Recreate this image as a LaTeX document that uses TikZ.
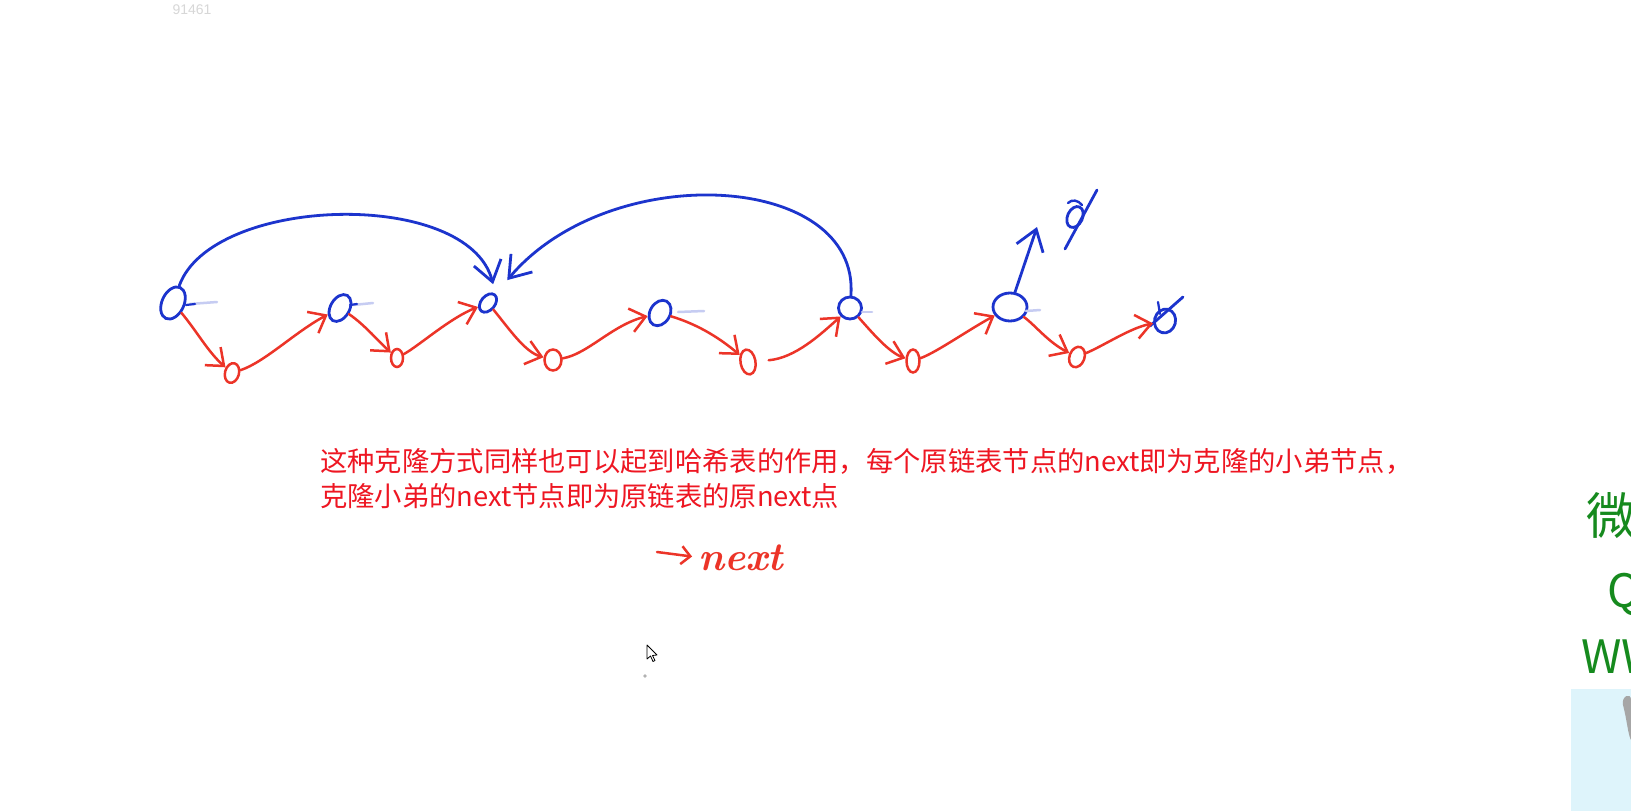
\documentclass[tikz,border=0pt]{standalone}
\usepackage{fontspec}
\newfontfamily\cjk{Noto Sans CJK SC}
\newfontfamily\lsans{Liberation Sans}
\usetikzlibrary{arrows.meta,shapes.geometric}
\definecolor{penblue}{RGB}{28,52,205}
\definecolor{penred}{RGB}{236,52,40}
\definecolor{textred}{RGB}{238,22,34}
\definecolor{wgreen}{RGB}{22,138,30}
\definecolor{wmgray}{RGB}{215,215,215}
\definecolor{boxblue}{RGB}{222,244,251}
\tikzset{
  bnode/.style={draw=penblue, line width=2.8pt, ellipse, inner sep=0pt},
  rnode/.style={draw=penred, line width=2.5pt, ellipse, inner sep=0pt},
  bline/.style={draw=penblue, line width=2.8pt, line cap=round, line join=round},
  rline/.style={draw=penred, line width=2.5pt, line cap=round, line join=round},
  barr/.style={bline, -{Straight Barb[length=20pt,width=28pt]}},
  rarr/.style={rline, -{Straight Barb[length=15pt,width=24pt]}},
  faint/.style={draw=penblue!25, line width=2.5pt, line cap=round},
  redtext/.style={anchor=base west, text=textred, inner sep=0pt, font=\cjk\fontsize{27.3}{35}\selectfont},
  greentext/.style={anchor=base west, text=wgreen, inner sep=0pt}
}
\begin{document}
\begin{tikzpicture}[x=1pt,y=-1pt]
\useasboundingbox (0,0) rectangle (1631,811);
\clip (0,0) rectangle (1631,811);
\fill[white] (0,0) rectangle (1631,811);

% watermark
\node[text=wmgray, font=\lsans\fontsize{14}{14}\selectfont] (wm) at (192,10) {91461};

% blue (original) nodes
\node[bnode, minimum width=22pt, minimum height=34pt, rotate=-25] (b1) at (173,303) {};
\node[bnode, minimum width=19pt, minimum height=29pt, rotate=-30] (b2) at (340,308) {};
\node[bnode, minimum width=14pt, minimum height=21pt, rotate=-40] (b3) at (488,303) {};
\node[bnode, minimum width=20pt, minimum height=27pt, rotate=-30] (b4) at (660,313) {};
\node[bnode, minimum width=23pt, minimum height=22pt] (b5) at (850,308) {};
\node[bnode, minimum width=34pt, minimum height=28pt] (b6) at (1010,307) {};
\node[bnode, minimum width=21pt, minimum height=24pt, rotate=-15] (b7) at (1165,321) {};
\node[bnode, minimum width=15pt, minimum height=22pt, rotate=-25] (ynull) at (1075,217) {};

% red (clone) nodes
\node[rnode, minimum width=14pt, minimum height=20pt, rotate=-15] (r1) at (232,373) {};
\node[rnode, minimum width=12pt, minimum height=18pt] (r2) at (397,358) {};
\node[rnode, minimum width=17pt, minimum height=21pt] (r3) at (553,360) {};
\node[rnode, minimum width=15pt, minimum height=25pt, rotate=10] (r4) at (748,362) {};
\node[rnode, minimum width=13pt, minimum height=23pt] (r5) at (913,361) {};
\node[rnode, minimum width=15pt, minimum height=21pt, rotate=-20] (r6) at (1077,357) {};

% faint tails of the blue nodes
\draw[faint] (190,304) -- (217,302);
\draw[faint] (353,305) -- (373,303);
\draw[faint] (678,312) -- (704,311);
\draw[faint] (862,312) -- (872,312);
\draw[faint] (1026,311) -- (1040,310);
\draw[bline, line width=2.2pt] (186,305) -- (195,304);
\draw[bline, line width=2.2pt] (350,305) -- (357,304);

% null marks
\draw[bline] (1097,190) -- (1065,249);
\draw[bline, line width=2.4pt] (1068,203) .. controls (1072,199) and (1078,200) .. (1082,205);
\draw[bline] (1183,297) -- (1150,326);
\draw[bline, line width=2.2pt] (1158,302) -- (1160,314);

% red next pointers
\draw[rarr] (b1) .. controls (196,330) and (208,352) .. (r1);
\draw[rarr] (r1) .. controls (265,362) and (295,332) .. (b2);
\draw[rarr] (b2) .. controls (365,325) and (380,343) .. (r2);
\draw[rarr] (r2) .. controls (420,345) and (450,318) .. (b3);
\draw[rarr] (b3) .. controls (510,330) and (525,352) .. (r3);
\draw[rarr] (r3) .. controls (588,354) and (612,325) .. (b4);
\draw[rarr] (b4) .. controls (700,325) and (722,340) .. (r4);
\draw[rarr, shorten <=12pt] (r4) .. controls (795,358) and (820,335) .. (b5);
\draw[rarr] (b5) .. controls (870,330) and (888,352) .. (r5);
\draw[rarr] (r5) .. controls (937,352) and (965,332) .. (b6);
\draw[rarr] (b6) .. controls (1035,325) and (1048,342) .. (r6);
\draw[rarr] (r6) .. controls (1105,345) and (1130,328) .. (b7);

% blue random pointers
\draw[barr, shorten >=10pt] (b1) .. controls (212,195) and (468,188) .. (b3.north);
\draw[barr, shorten >=18pt] (b5) .. controls (860,172) and (610,158) .. (b3.north);
\coordinate (nulltip) at (1037,227);
\draw[barr] (b6) -- (nulltip);

% explanation text
\node[redtext] (t1) at (320,471) {这种克隆方式同样也可以起到哈希表的作用，每个原链表节点的next即为克隆的小弟节点，};
\node[redtext] (t2) at (320,506) {克隆小弟的next节点即为原链表的原next点};

% handwritten ->next
\coordinate (na) at (657,552);
\node[text=penred, font=\itshape\bfseries\fontsize{40}{40}\selectfont, anchor=base west, inner sep=0pt] (nx) at (698,570) {next};
\draw[rline, line width=2.5pt, -{Straight Barb[length=9pt,width=18pt]}, shorten >=6pt] (na) -- (nx.west);

% mouse cursor and dot
\draw[black, line width=0.8pt, fill=white, line join=round] (647,645) -- (647,659) -- (650.5,656) -- (653,661.5) -- (655,660.5) -- (652.5,655.5) -- (657,655) -- cycle;
\fill[gray!60] (645,676) circle (1.8);

% right edge (cut off by the frame, as in the reference)
\node[greentext, font=\cjk\fontsize{50}{50}\selectfont] (g1) at (1586,534) {微};
\node[greentext, font=\cjk\fontsize{46}{46}\selectfont] (g2) at (1607,607) {Q};
\node[greentext, font=\cjk\fontsize{46}{46}\selectfont] (g3) at (1581,673) {WW};
\fill[boxblue] (1571,689) rectangle (1631,811);
\fill[gray!70] (1623,705) .. controls (1621,696) and (1631,692) .. (1631,700) -- (1631,740) .. controls (1628,735) and (1627,720) .. cycle;
\end{tikzpicture}
\end{document}
